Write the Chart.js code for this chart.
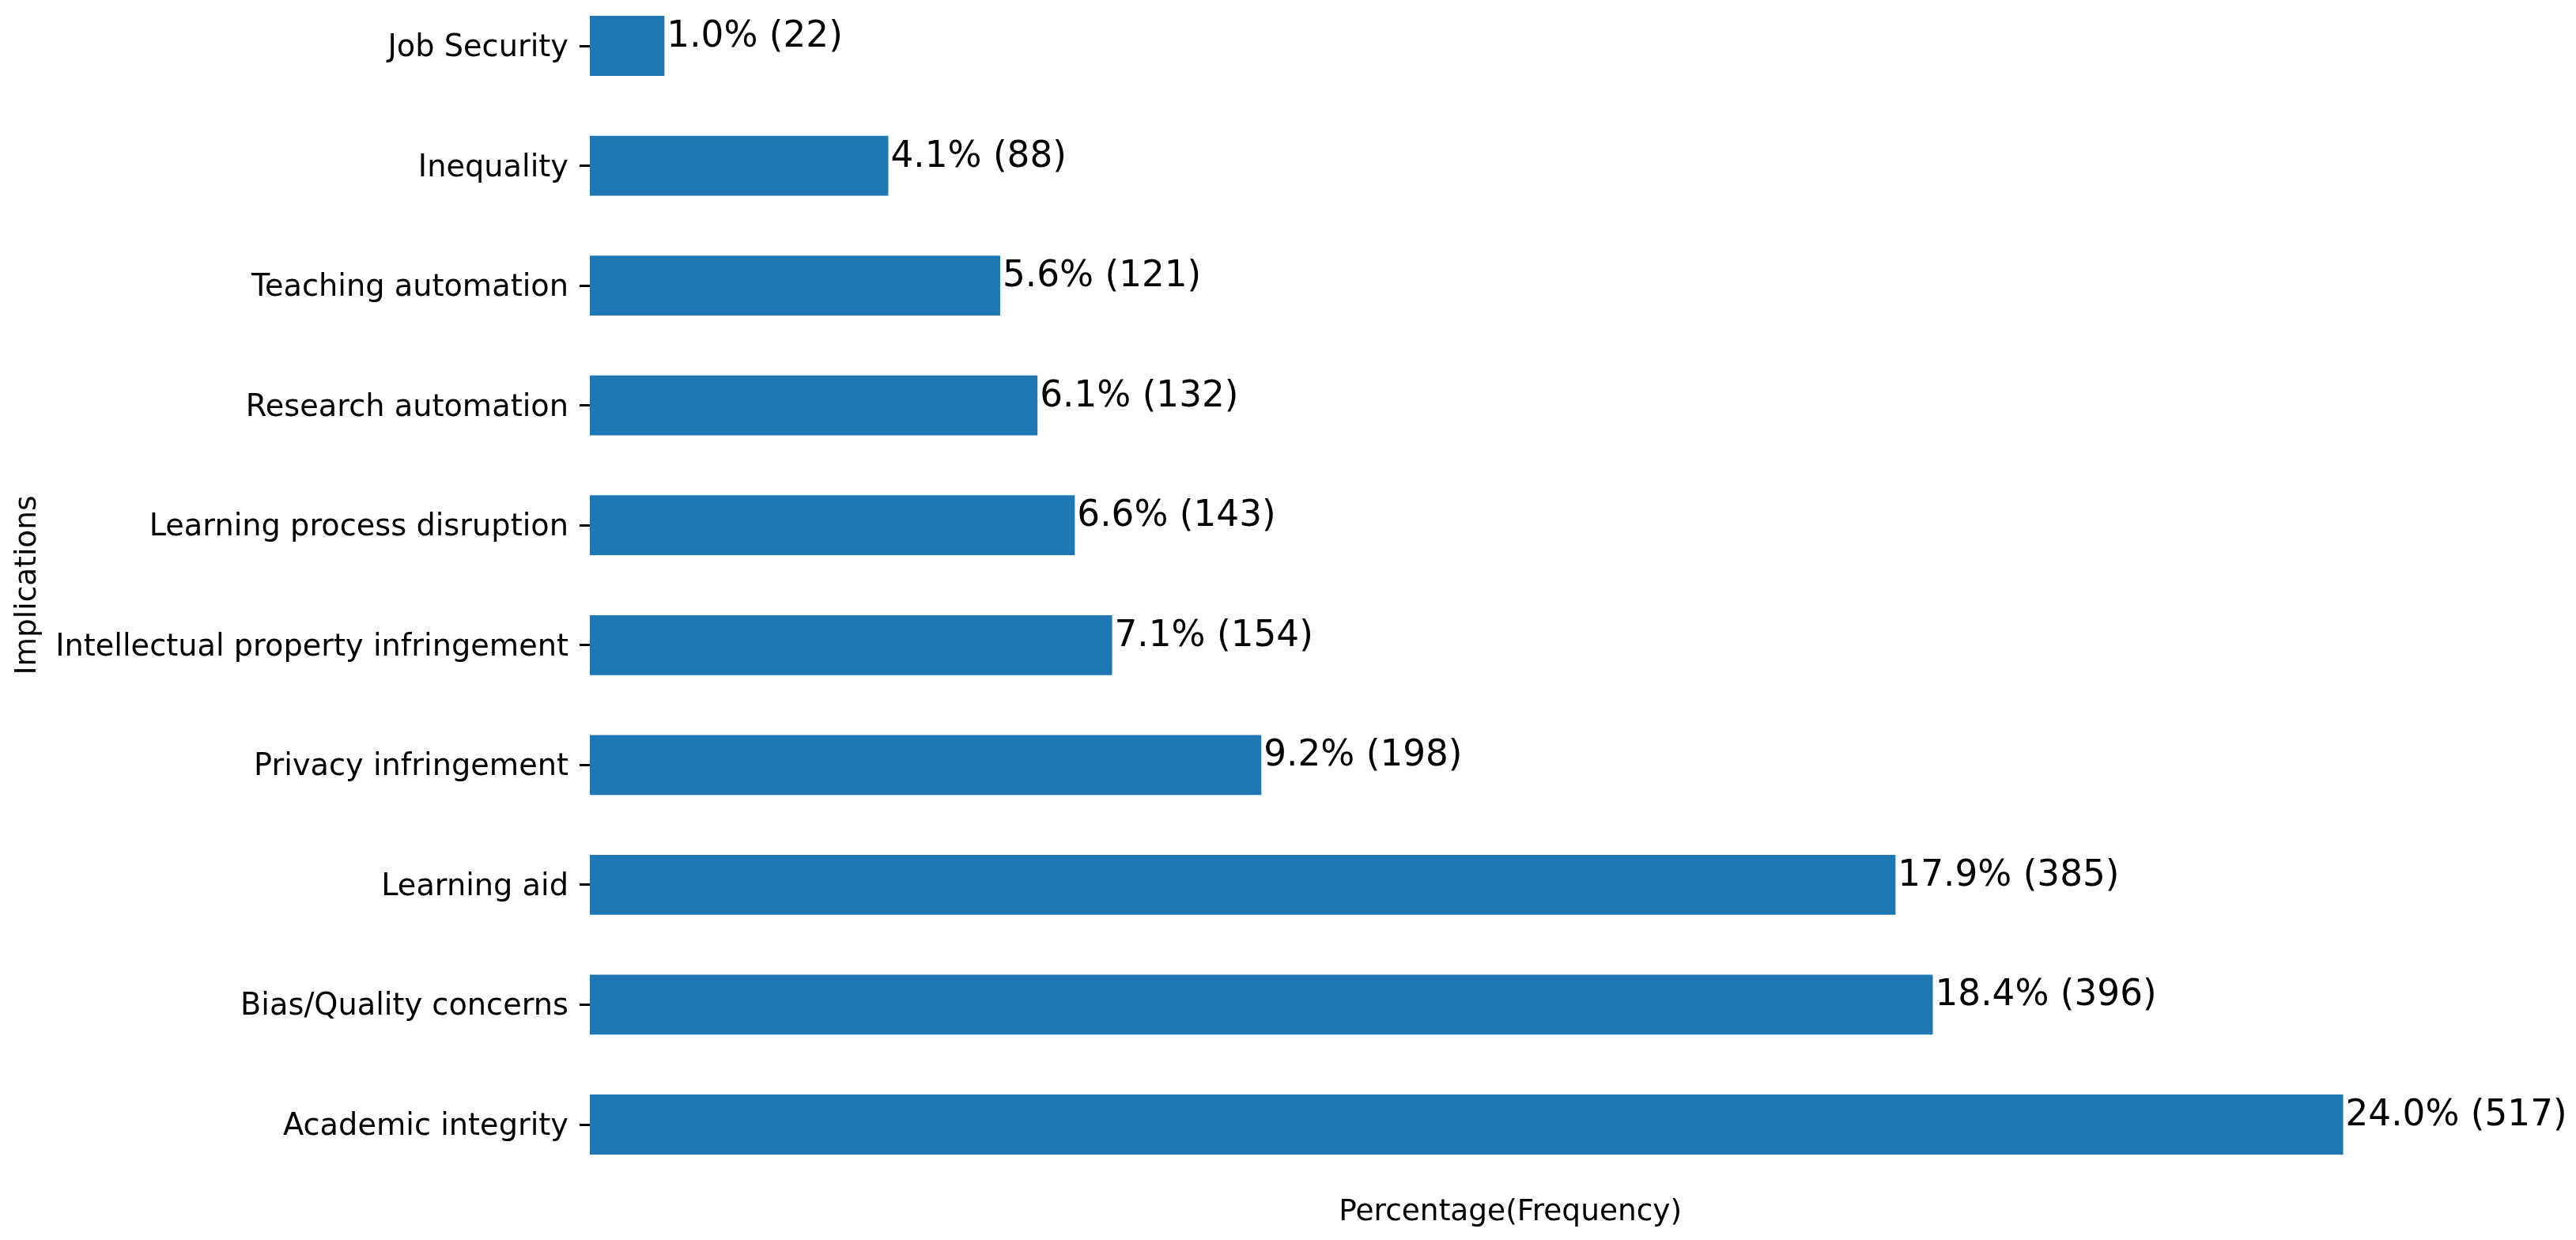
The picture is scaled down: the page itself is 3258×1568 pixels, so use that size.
<!DOCTYPE html>
<html>
<head>
<meta charset="utf-8">
<script src="https://cdn.jsdelivr.net/npm/chart.js@4"></script>
<style>
  html, body { margin: 0; padding: 0; background: #ffffff; }
  #wrap { width: 3258px; height: 1568px; position: relative; }
</style>
</head>
<body>
<div id="wrap"><canvas id="c"></canvas></div>
<script>
const categories = [
  'Job Security',
  'Inequality',
  'Teaching automation',
  'Research automation',
  'Learning process disruption',
  'Intellectual property infringement',
  'Privacy infringement',
  'Learning aid',
  'Bias/Quality concerns',
  'Academic integrity'
];
const counts = [22, 88, 121, 132, 143, 154, 198, 385, 396, 517];
const percentages = [1.0, 4.1, 5.6, 6.1, 6.6, 7.1, 9.2, 17.9, 18.4, 24.0];

const FONT = "'DejaVu Sans', 'Liberation Sans', sans-serif";

const valueLabels = {
  id: 'valueLabels',
  afterDatasetsDraw(chart) {
    const ctx = chart.ctx;
    const meta = chart.getDatasetMeta(0);
    ctx.save();
    ctx.font = '45.3px ' + FONT;
    ctx.fillStyle = '#000000';
    ctx.textAlign = 'left';
    ctx.textBaseline = 'alphabetic';
    meta.data.forEach((bar, i) => {
      const txt = percentages[i].toFixed(1) + '% (' + counts[i] + ')';
      ctx.fillText(txt, bar.x + 3, bar.y + 1);
    });
    ctx.restore();
  }
};

new Chart(document.getElementById('c'), {
  type: 'bar',
  data: {
    labels: categories,
    datasets: [{
      data: counts,
      backgroundColor: '#1f77b4',
      borderWidth: 0,
      barPercentage: 0.5,
      categoryPercentage: 1.0,
      clip: false
    }]
  },
  options: {
    indexAxis: 'y',
    responsive: true,
    maintainAspectRatio: false,
    devicePixelRatio: 1,
    animation: false,
    layout: { padding: { left: 0, right: 183.6, top: 58, bottom: 0 } },
    plugins: {
      legend: { display: false },
      tooltip: { enabled: false }
    },
    scales: {
      x: {
        type: 'linear',
        min: 0,
        max: Math.max(...counts) * 1.05,
        ticks: { display: false },
        grid: { display: false },
        border: { display: false },
        title: {
          display: true,
          text: 'Percentage(Frequency)',
          color: '#000000',
          font: { family: FONT, size: 37.5 },
          padding: { top: 88.5, bottom: 12.5 }
        },
        afterFit(scale) { scale.height = 146; }
      },
      y: {
        type: 'category',
        offset: false,
        ticks: {
          color: '#000000',
          font: { family: FONT, size: 38.3 },
          padding: 14,
          labelOffset: 3
        },
        grid: {
          display: true,
          drawOnChartArea: false,
          drawTicks: true,
          tickLength: 13,
          color: '#000000',
          lineWidth: 3,
          offset: false
        },
        border: { display: false },
        title: {
          display: true,
          text: 'Implications',
          color: '#000000',
          font: { family: FONT, size: 37.5 },
          padding: { top: 12.5, bottom: 0 }
        },
        afterFit(scale) { scale.width = 746; }
      }
    }
  },
  plugins: [valueLabels]
});
</script>
</body>
</html>
